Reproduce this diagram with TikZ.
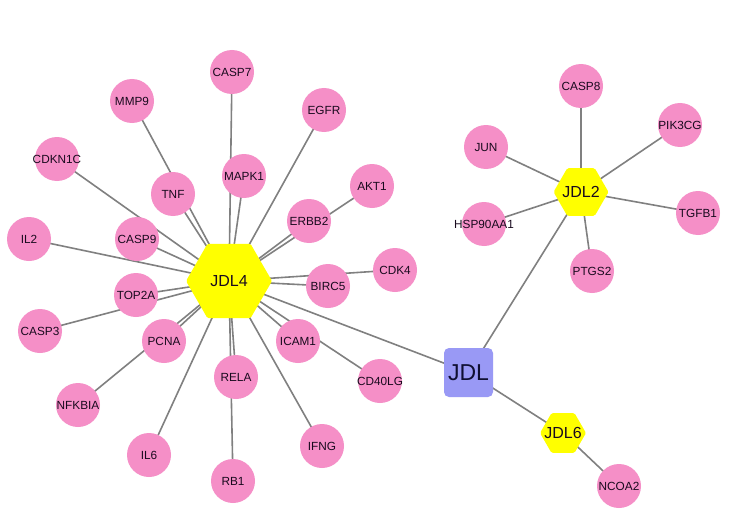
\documentclass[tikz,border=0pt]{standalone}
\usepackage{fontspec}
\setmainfont{Liberation Sans}
\usetikzlibrary{shapes.geometric,backgrounds}
\definecolor{genepink}{RGB}{245,143,199}
\definecolor{hubyellow}{RGB}{255,255,0}
\definecolor{rootblue}{RGB}{153,153,245}
\definecolor{edgegray}{RGB}{128,128,128}
\definecolor{txtdark}{RGB}{25,10,30}
\tikzset{
  gene/.style={circle,fill=genepink,draw=none,minimum size=44pt,inner sep=0pt,
    label={[genelab]center:#1}},
  genelab/.style={font=\fontsize{11.8}{12}\selectfont,text=txtdark,inner sep=0pt},
  hub/.style={regular polygon,regular polygon sides=6,fill=hubyellow,draw=none,
    inner sep=0pt,rounded corners=1.5pt},
  hublab/.style={font=\fontsize{16}{18}\selectfont,text=txtdark,inner sep=0pt},
  root/.style={rectangle,fill=rootblue,draw=none,minimum size=49pt,inner sep=0pt,
    rounded corners=5pt,font=\fontsize{23}{26}\selectfont,text={rgb,255:red,15;green,15;blue,50}},
  edge/.style={draw=edgegray,line width=1.6pt}
}
\begin{document}
\begin{tikzpicture}[x=1pt,y=-1pt]
\useasboundingbox (0,0) rectangle (730,524);
% hubs
\node[hub,minimum size=86pt,label={[hublab]center:JDL4}] (JDL4) at (229,281) {};
\node[hub,minimum size=55pt,label={[hublab]center:JDL2}] (JDL2) at (581,192) {};
\node[hub,minimum size=46pt,label={[hublab]center:JDL6}] (JDL6) at (563,433) {};
\node[root] (JDL) at (468.5,372.5) {JDL};
% JDL4 genes
\node[gene=CASP7] (CASP7) at (232,72) {};
\node[gene=MMP9] (MMP9) at (132,101) {};
\node[gene=EGFR] (EGFR) at (324,110) {};
\node[gene=CDKN1C] (CDKN1C) at (57,159) {};
\node[gene=MAPK1] (MAPK1) at (244,176) {};
\node[gene=TNF] (TNF) at (173,194) {};
\node[gene=AKT1] (AKT1) at (372,186) {};
\node[gene=ERBB2] (ERBB2) at (309,221) {};
\node[gene=IL2] (IL2) at (29,239) {};
\node[gene=CASP9] (CASP9) at (137,239) {};
\node[gene=TOP2A] (TOP2A) at (136,295) {};
\node[gene=BIRC5] (BIRC5) at (328,286) {};
\node[gene=CDK4] (CDK4) at (395,270) {};
\node[gene=CASP3] (CASP3) at (40,331) {};
\node[gene=PCNA] (PCNA) at (164,341) {};
\node[gene=ICAM1] (ICAM1) at (298,341) {};
\node[gene=CD40LG] (CD40LG) at (380,381) {};
\node[gene=RELA] (RELA) at (236,377) {};
\node[gene=NFKBIA] (NFKBIA) at (78,405) {};
\node[gene=IL6] (IL6) at (149,455) {};
\node[gene=IFNG] (IFNG) at (322,446) {};
\node[gene=RB1] (RB1) at (233,481) {};
% JDL2 genes
\node[gene=CASP8] (CASP8) at (581,86) {};
\node[gene=PIK3CG] (PIK3CG) at (680,125) {};
\node[gene=JUN] (JUN) at (486,147) {};
\node[gene=TGFB1] (TGFB1) at (698,213) {};
\node[gene=HSP90AA1] (HSP90AA1) at (484,224) {};
\node[gene=PTGS2] (PTGS2) at (592,271) {};
% JDL6 genes
\node[gene=NCOA2] (NCOA2) at (619,486) {};
% edges
\begin{scope}[on background layer]
\fill[white] (0,0) rectangle (730,524);
\foreach \g in {CASP7,MMP9,EGFR,CDKN1C,MAPK1,TNF,AKT1,ERBB2,IL2,CASP9,TOP2A,BIRC5,CDK4,CASP3,PCNA,ICAM1,CD40LG,RELA,NFKBIA,IL6,IFNG,RB1,JDL}
  \draw[edge] (JDL4.center) -- (\g.center);
\foreach \g in {CASP8,PIK3CG,JUN,TGFB1,HSP90AA1,PTGS2,JDL}
  \draw[edge] (JDL2.center) -- (\g.center);
\foreach \g in {JDL,NCOA2}
  \draw[edge] (JDL6.center) -- (\g.center);
\end{scope}
\end{tikzpicture}
\end{document}
